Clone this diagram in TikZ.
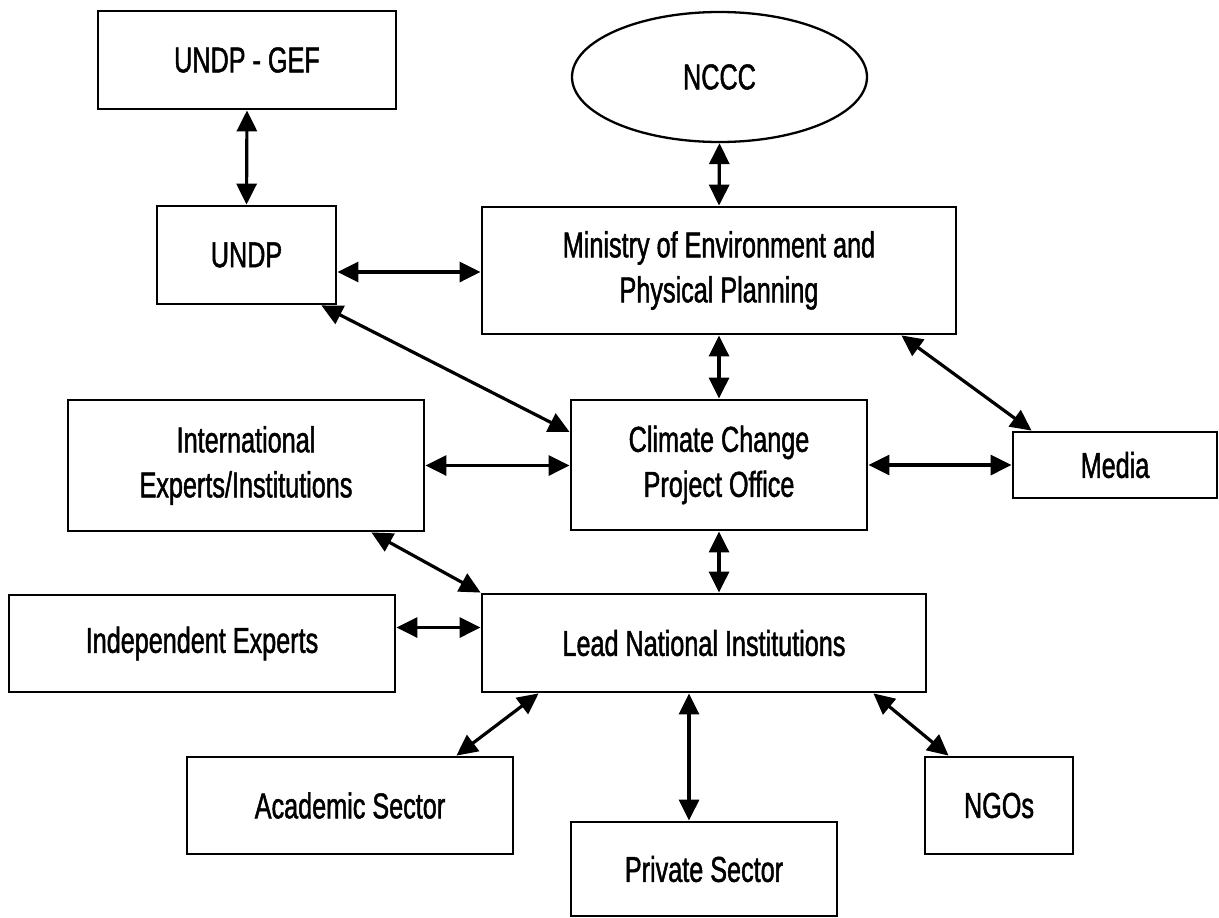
\documentclass[tikz,border=0pt]{standalone}
\usepackage{fontspec}
\setmainfont{Liberation Sans}[FakeStretch=0.7,FakeBold=1.3]
\usetikzlibrary{shapes.geometric,arrows.meta}
\begin{document}
\begin{tikzpicture}[x=1pt,y=-1pt,
  every node/.style={font=\fontsize{36}{45}\selectfont, align=center, inner sep=0pt},
  box/.style={draw, line width=2.8pt, rectangle},
  oval/.style={draw, line width=2.3pt, ellipse},
  link/.style={line width=3.2pt, {Triangle[length=21pt,width=20pt]}-{Triangle[length=21pt,width=20pt]}}]
\useasboundingbox (0,0) rectangle (1219,918);
% nodes
\node[box, minimum width=298pt, minimum height=98pt] (gef) at (247,60) {UNDP - GEF};
\node[box, minimum width=179pt, minimum height=98pt] (undp) at (246.5,255) {UNDP};
\node[oval, minimum width=295pt, minimum height=130pt] (nccc) at (719.5,77) {NCCC};
\node[box, minimum width=474pt, minimum height=127pt] (min) at (719,270.5) {Ministry of Environment and\\Physical Planning};
\node[box, minimum width=296pt, minimum height=130pt] (ccpo) at (719,465) {Climate Change\\Project Office};
\node[box, minimum width=356pt, minimum height=131pt] (intl) at (246,465.5) {International\\Experts/Institutions};
\node[box, minimum width=204pt, minimum height=66pt] (media) at (1115,465) {Media};
\node[box, minimum width=386pt, minimum height=97pt] (indep) at (202,643.5) {Independent Experts};
\node[box, minimum width=444pt, minimum height=98pt] (lead) at (704,643) {Lead National Institutions};
\node[box, minimum width=326pt, minimum height=97pt] (acad) at (350,805.5) {Academic Sector};
\node[box, minimum width=148pt, minimum height=97pt] (ngo) at (999,805.5) {NGOs};
\node[box, minimum width=266pt, minimum height=94pt] (priv) at (704,869) {Private Sector};
% connectors
\draw[link] (gef.south) -- (undp.north);
\draw[link] ([yshift=-17pt]undp.east) coordinate (a1) -- (a1 -| min.west);
\draw[link] ([xshift=-16pt]undp.south east) -- ([yshift=33pt]ccpo.west);
\draw[link] (nccc.south) -- (min.north);
\draw[link] (min.south) -- (ccpo.north);
\draw[link] ([xshift=-56pt]min.south east) -- ([xshift=20pt]media.north west);
\draw[link] (intl.east) -- (intl.east -| ccpo.west);
\draw[link] (ccpo.east) -- (ccpo.east -| media.west);
\draw[link] ([xshift=-54pt]intl.south east) -- (lead.north west);
\draw[link] ([yshift=16pt]indep.east) coordinate (a2) -- (a2 -| lead.west);
\draw[link] (ccpo.south) -- (ccpo.south |- lead.north);
\draw[link] ([xshift=58pt]lead.south west) -- ([xshift=-58pt]acad.north east);
\draw[link] ([xshift=-15pt]priv.north) coordinate (a3) -- (a3 |- lead.south);
\draw[link] ([xshift=-54pt]lead.south east) -- ([xshift=25pt]ngo.north west);
\end{tikzpicture}
\end{document}
